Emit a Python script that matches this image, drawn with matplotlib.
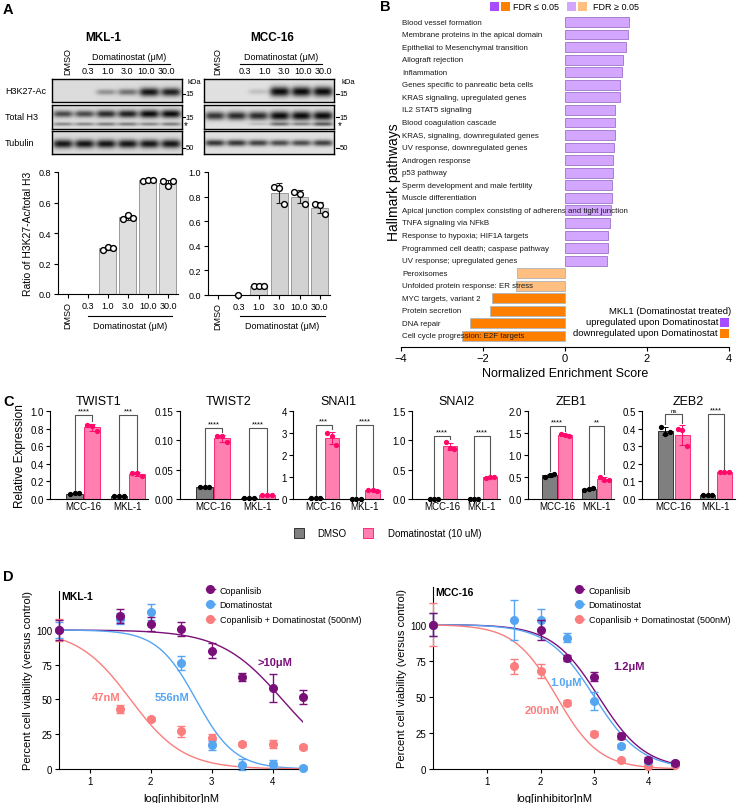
import numpy as np
import matplotlib
matplotlib.use('Agg')
import matplotlib.pyplot as plt
from matplotlib.patches import Rectangle
from matplotlib.lines import Line2D

plt.rcParams['font.family'] = ['Liberation Sans', 'DejaVu Sans']
plt.rcParams['axes.linewidth'] = 0.8

W, H = 738, 804

# ---------------- panel A data ----------------
conc_labels = ['DMSO', '0.3', '1.0', '3.0', '10.0', '30.0']
# band intensities per lane (0..1)
mkl_h3k27 = [0.0, 0.0, 0.35, 0.5, 0.95, 0.9]
mkl_h3_up = [0.7, 0.7, 0.85, 0.9, 1.0, 1.0]
mkl_h3_low = [0.4, 0.4, 0.45, 0.45, 0.4, 0.45]
mkl_tub = [0.95, 0.95, 0.95, 0.95, 0.95, 0.95]
mcc_h3k27 = [0.0, 0.0, 0.15, 1.0, 1.0, 1.0]
mcc_h3_up = [0.8, 0.85, 0.85, 1.0, 1.0, 1.0]
mcc_h3_low = [0.0, 0.0, 0.15, 0.5, 0.4, 0.6]
mcc_tub = [0.8, 0.8, 0.75, 0.7, 0.7, 0.75]
# quantification (ratio H3K27-Ac / total H3), replicates
mkl_ratio = [[], [], [0.29, 0.31, 0.30], [0.49, 0.52, 0.50], [0.74, 0.75, 0.75], [0.74, 0.71, 0.74]]
mcc_ratio = [[], [0.0], [0.07, 0.07, 0.075], [0.88, 0.87, 0.74], [0.84, 0.82, 0.74], [0.74, 0.73, 0.66]]

# ---------------- panel B data ----------------
pathways = ['Blood vessel formation', 'Membrane proteins in the apical domain',
            'Epithelial to Mesenchymal transition', 'Allograft rejection', 'Inflammation',
            'Genes specific to panreatic beta cells', 'KRAS signaling, upregulated genes',
            'IL2 STAT5 signaling', 'Blood coagulation cascade', 'KRAS, signaling, downregulated genes',
            'UV response, downregulated genes', 'Androgen response', 'p53 pathway',
            'Sperm development and male fertility', 'Muscle differentiation',
            'Apical junction complex consisting of adherens and tight junction',
            'TNFA signaling via NFkB', 'Response to hypoxia; HIF1A targets',
            'Programmed cell death; caspase pathway', 'UV response; upregulated genes',
            'Peroxisomes', 'Unfolded protein response: ER stress', 'MYC targets, variant 2',
            'Protein secretion', 'DNA repair', 'Cell cycle progression: E2F targets']
nes = [1.55, 1.53, 1.48, 1.42, 1.40, 1.35, 1.33, 1.22, 1.22, 1.21, 1.20, 1.17, 1.16,
       1.15, 1.15, 1.12, 1.10, 1.04, 1.04, 1.02, -1.18, -1.20, -1.77, -1.82, -2.31, -2.52]
fdr_sig = [False] * 22 + [True, True, True, True]

# ---------------- panel C data ----------------
genes = ['TWIST1', 'TWIST2', 'SNAI1', 'SNAI2', 'ZEB1', 'ZEB2']
cell_lines = ['MCC-16', 'MKL-1']
# replicates: MCC DMSO, MCC Dom, MKL DMSO, MKL Dom
twist1 = [[0.055, 0.065, 0.065], [0.84, 0.83, 0.77], [0.03, 0.03, 0.035], [0.30, 0.29, 0.26]]
twist2 = [[0.020, 0.020, 0.020], [0.107, 0.107, 0.097], [0.002, 0.002, 0.002], [0.006, 0.006, 0.006]]
snai1 = [[0.05, 0.05, 0.05], [2.98, 2.88, 2.45], [0.0, 0.0, 0.0], [0.42, 0.40, 0.38]]
snai2 = [[0.0, 0.0, 0.0], [0.97, 0.87, 0.86], [0.0, 0.0, 0.0], [0.35, 0.37, 0.38]]
zeb1 = [[0.50, 0.55, 0.56], [1.48, 1.45, 1.43], [0.20, 0.23, 0.24], [0.50, 0.44, 0.43]]
zeb2 = [[0.41, 0.37, 0.38], [0.40, 0.39, 0.30], [0.02, 0.025, 0.022], [0.153, 0.153, 0.153]]
c_ymax = [1.0, 0.15, 4, 1.5, 2.0, 0.5]
c_ticks = [[0, 0.2, 0.4, 0.6, 0.8, 1.0], [0, 0.05, 0.10, 0.15], [0, 1, 2, 3, 4],
           [0, 0.5, 1.0, 1.5], [0, 0.5, 1.0, 1.5, 2.0], [0, 0.1, 0.2, 0.3, 0.4, 0.5]]
c_fmt = ['%.1f', '%.2f', '%d', '%.1f', '%.1f', '%.1f']
sig_labels = [['****', '***'], ['****', '****'], ['***', '****'], ['****', '****'], ['****', '**'], ['ns', '****']]
bracket_y = [[0.955, 0.955], [0.121, 0.121], [3.36, 3.36], [1.07, 1.07], [1.66, 1.66], [0.483, 0.483]]

# ---------------- panel D data ----------------
log_dose_mkl = [0.5, 1.5, 2, 2.5, 3, 3.5, 4, 4.5]
mkl_cop = [100, 110, 104, 101, 85, 66, 58, 52]
mkl_cop_err = [7, 5, 5, 5, 5.5, 3, 10, 5]
mkl_dom = [100, 108, 113, 76, 17, 3, 3.5, 1]
mkl_dom_err = [6, 4, 6, 5, 3, 4, 3, 1]
mkl_combo = [100, 43, 36, 27, 22, 18, 18, 16]
mkl_combo_err = [8, 3, 1.5, 4, 3, 1.5, 3, 1.5]
log_dose_mcc = [0, 1.5, 2, 2.5, 3, 3.5, 4, 4.5]
mcc_cop = [100, np.nan, 96, 77, 64, 23, 6.5, 4]
mcc_cop_err = [8, 0, 7, 2, 3, 2, 1.5, 1.5]
mcc_dom = [100, 103, 103, 91, 47, 16, 5.5, 4]
mcc_dom_err = [8, 14, 8, 3, 6, 1.5, 1, 1]
mcc_combo = [100, 71, 68, 46, 24.5, 6, 2, 3]
mcc_combo_err = [15, 5, 5, 1.5, 1.5, 1, 1, 1]
# fitted curves: log IC50 and hill slope (cop, dom, combo)
mkl_logic50 = [4.16, 2.745, 1.672]
mkl_hill = [0.86, 1.36, 1.0]
mcc_logic50 = [3.08, 3.0, 2.3]
mcc_hill = [1.0, 1.0, 1.1]
mkl_ic_text = ['>10μM', '556nM', '47nM']
mkl_ic_pos = [(4.04, 77), (2.35, 52), (1.27, 52)]
mcc_ic_text = ['1.2μM', '1.0μM', '200nM']
mcc_ic_pos = [(3.65, 71), (2.48, 60), (2.02, 41)]
drug_names = ['Copanlisib', 'Domatinostat', 'Copanlisib + Domatinostat (500nM)']
drug_colors = ['#7a0f7a', '#55a5f2', '#fb7d7d']


def box(l, t, w, h):
    return [l / W, 1 - (t + h) / H, w / W, h / H]


fig = plt.figure(figsize=(W / 100, H / 100), dpi=100)


# ================= panel A: blots =================
def draw_blot(l, t, w, h, bands, bg):
    ax = fig.add_axes(box(l, t, w, h))
    nx, ny = 260, 60
    xs = np.linspace(0, 6, nx)
    ys = np.linspace(0, 1, ny)
    X, Y = np.meshgrid(xs, ys)
    v = np.zeros_like(X)
    for yc, inten, sy in bands:
        for i, a in enumerate(inten):
            if a <= 0:
                continue
            prof_x = np.exp(-((X - (i + 0.5)) / 0.46) ** 4)
            s = sy * (0.55 + 0.6 * a)
            prof_y = np.exp(-((Y - yc) / s) ** 2)
            v += a * prof_x * prof_y
    v = np.clip(v, 0, 1)
    img = bg - (bg - 0.04) * v
    ax.imshow(img, cmap='gray', vmin=0, vmax=1, aspect='auto', extent=(0, 6, 1, 0),
              interpolation='bilinear')
    ax.set_xticks([])
    ax.set_yticks([])
    for s in ax.spines.values():
        s.set_linewidth(1.0)
    return ax


draw_blot(52, 80, 130, 23, [(0.57, mkl_h3k27, 0.17)], 0.86)
draw_blot(52, 106, 130, 24, [(0.37, mkl_h3_up, 0.15), (0.80, mkl_h3_low, 0.09)], 0.86)
draw_blot(52, 132, 130, 23, [(0.56, mkl_tub, 0.17)], 0.86)
draw_blot(204, 80, 130, 23, [(0.55, mcc_h3k27, 0.19)], 0.88)
draw_blot(204, 106, 130, 24, [(0.45, mcc_h3_up, 0.17), (0.80, mcc_h3_low, 0.09)], 0.88)
draw_blot(204, 132, 130, 23, [(0.52, mcc_tub, 0.14)], 0.88)


# ================= panel A: quantification =================
def ratio_bars(l, t, w, h, reps, ymax, yticks, color):
    ax = fig.add_axes(box(l, t, w, h))
    xpos = np.arange(len(conc_labels))
    for i, r in enumerate(reps):
        if len(r) == 0:
            continue
        m = np.mean(r)
        ax.bar(xpos[i], m, width=0.85, color=color, edgecolor='#9a9a9a', linewidth=0.7, zorder=1)
        if len(r) > 1:
            sd = np.std(r, ddof=1)
            ax.errorbar(xpos[i], m, yerr=sd, color='#222222', capsize=2.5, elinewidth=0.8,
                        capthick=0.8, zorder=2)
        offs = [-0.25, 0, 0.25][:len(r)] if len(r) > 1 else [0]
        ax.plot(xpos[i] + np.array(offs), r, 'o', mfc='white', mec='black', ms=4.2, mew=1.0,
                zorder=3, clip_on=False)
    ax.set_xlim(-0.5, 5.5)
    ax.set_ylim(0, ymax)
    ax.set_yticks(yticks)
    ax.set_yticklabels(['%.1f' % v for v in yticks])
    ax.set_xticks(xpos)
    ax.set_xticklabels(conc_labels)
    ax.get_xticklabels()[0].set_rotation(90)
    ax.get_xticklabels()[0].set_va('top')
    ax.tick_params(labelsize=6.5, length=3, width=0.8, pad=2)
    ax.spines['top'].set_visible(False)
    ax.spines['right'].set_visible(False)
    return ax


axr1 = ratio_bars(58, 173, 120, 122, mkl_ratio, 0.8, [0, 0.2, 0.4, 0.6, 0.8], '#dedede')
axr1.set_ylabel('Ratio of H3K27-Ac/total H3', fontsize=7.5, labelpad=4)
ratio_bars(208, 173, 122, 123, mcc_ratio, 1.0, [0, 0.2, 0.4, 0.6, 0.8, 1.0], '#d2d2d2')

# ================= panel B =================
axb = fig.add_axes(box(401, 16, 328, 332))
ypos = np.arange(len(pathways))
bcolors = []
ecolors = []
for v, s in zip(nes, fdr_sig):
    if v > 0:
        bcolors.append('#a64dff' if s else '#d3a6ff')
        ecolors.append('#8a50c0' if s else '#a77fcf')
    else:
        bcolors.append('#ff8000' if s else '#ffbf80')
        ecolors.append('#b8b8b8')
axb.barh(ypos, nes, height=0.78, color=bcolors, edgecolor=ecolors, linewidth=0.7)
for i, p in enumerate(pathways):
    axb.text(-3.97, i, p, fontsize=5.7, va='center', ha='left', color='#1a1a1a')
axb.set_xlim(-4, 4)
axb.set_ylim(len(pathways) - 0.12, -0.56)
axb.set_xticks([-4, -2, 0, 2, 4])
axb.set_yticks([])
for s in ['top', 'right', 'left']:
    axb.spines[s].set_visible(False)
axb.tick_params(axis='x', labelsize=8, length=3, width=0.8, pad=1)
axb.set_xlabel('Normalized Enrichment Score', fontsize=9, labelpad=3)
axb.set_ylabel('Hallmark pathways', fontsize=10, labelpad=0)

# ================= panel C =================
c_lefts = [50, 180, 293, 412, 528, 642]
c_widths = [98, 98, 90, 88, 86, 93]
c_data = [twist1, twist2, snai1, snai2, zeb1, zeb2]
c_axes = []
for k, g in enumerate(genes):
    ax = fig.add_axes(box(c_lefts[k], 412, c_widths[k], 88))
    c_axes.append(ax)
    ymax = c_ymax[k]
    tops = []
    for j, reps in enumerate(c_data[k]):
        grp = j // 2
        dom = j % 2
        x = grp + (0.2 if dom else -0.2)
        m = np.mean(reps)
        sd = np.std(reps, ddof=1)
        fc = '#ff80b0' if dom else '#7f7f7f'
        ec = '#ff2a7a' if dom else '#333333'
        pc = '#ff0a6a' if dom else '#000000'
        ax.bar(x, m, width=0.36, color=fc, edgecolor=ec, linewidth=0.7, zorder=1)
        ax.errorbar(x, m, yerr=sd, color=pc, capsize=2, elinewidth=0.7, capthick=0.7, zorder=2)
        ax.plot(x + np.array([-0.11, 0, 0.11]), reps, 'o', color=pc, ms=2.8, zorder=3, clip_on=False)
        tops.append(max(max(reps), m + sd))
    for grp in range(2):
        yb = bracket_y[k][grp]
        x0 = grp - 0.2
        x1 = grp + 0.2
        gap = ymax * 0.03
        ax.plot([x0, x0, x1, x1], [tops[2 * grp] + gap, yb, yb, tops[2 * grp + 1] + gap],
                color='#555555', lw=0.8, zorder=0, clip_on=False)
        ax.text(grp, yb + ymax * 0.01, sig_labels[k][grp], ha='center', va='bottom',
                fontsize=4.5 if sig_labels[k][grp] == 'ns' else 5.5)
    ax.set_xlim(-0.75, 1.45)
    ax.set_ylim(0, ymax)
    ax.set_yticks(c_ticks[k])
    ax.set_yticklabels([c_fmt[k] % v for v in c_ticks[k]])
    ax.set_xticks([0, 1])
    ax.set_xticklabels(cell_lines)
    ax.tick_params(labelsize=7, length=3, width=0.8, pad=1.5)
    ax.tick_params(axis='x', length=0)
    ax.spines['top'].set_visible(False)
    ax.spines['right'].set_visible(False)
    ax.set_title(g, fontsize=9, pad=5)
c_axes[0].set_ylabel('Relative Expression', fontsize=8.5, labelpad=3)


# ================= panel D =================
def hill(x, c, h):
    return 100.0 / (1 + 10 ** ((x - c) * h))


def dose_plot(l, t, w, h, x0, ymax, xd, ys, errs, logic50, hills, ic_text, ic_pos, title, leg_x):
    ax = fig.add_axes(box(l, t, w, h))
    xx = np.linspace(x0, 4.5, 200)
    for i in range(3):
        ax.plot(xx, hill(xx, logic50[i], hills[i]), color=drug_colors[i], lw=1.0, zorder=1)
    for i in [2, 1, 0]:
        ax.errorbar(xd, ys[i], yerr=errs[i], fmt='o', color=drug_colors[i], ms=5.5,
                    capsize=3, elinewidth=1.0, capthick=1.0, zorder=3 + (2 - i), clip_on=False)
    for i in range(3):
        ax.text(ic_pos[i][0], ic_pos[i][1], ic_text[i], color=drug_colors[i], fontsize=8,
                fontweight='bold', ha='center', va='center')
    ax.set_xlim(x0, 4.5)
    ax.set_ylim(0, ymax)
    ax.set_xticks([1, 2, 3, 4])
    ax.set_yticks([0, 25, 50, 75, 100])
    ax.tick_params(labelsize=7, length=3, width=0.8, pad=2)
    ax.spines['top'].set_visible(False)
    ax.spines['right'].set_visible(False)
    ax.set_xlabel('log[inhibitor]nM', fontsize=8, labelpad=5)
    ax.set_ylabel('Percent cell viability (versus control)', fontsize=8, labelpad=2)
    ax.text(0.01, 1.0, title, transform=ax.transAxes, fontsize=7.5, fontweight='bold',
            ha='left', va='top')
    handles = [Line2D([], [], color=c, marker='o', ms=5.5, lw=1.0) for c in drug_colors]
    ax.legend(handles, drug_names, loc='upper left', bbox_to_anchor=(leg_x, 1 - 582 / H),
              bbox_transform=fig.transFigure, frameon=False, fontsize=6.5, handlelength=1.1,
              handletextpad=0.45, labelspacing=0.65, borderpad=0)
    return ax


dose_plot(59, 592, 244, 178, 0.5, 128, log_dose_mkl,
          [mkl_cop, mkl_dom, mkl_combo], [mkl_cop_err, mkl_dom_err, mkl_combo_err],
          mkl_logic50, mkl_hill, mkl_ic_text, mkl_ic_pos, 'MKL-1', 201 / W)
dose_plot(433, 588, 242, 182, 0.0, 126, log_dose_mcc,
          [mcc_cop, mcc_dom, mcc_combo], [mcc_cop_err, mcc_dom_err, mcc_combo_err],
          mcc_logic50, mcc_hill, mcc_ic_text, mcc_ic_pos, 'MCC-16', 570 / W)

# ================= overlay: labels, annotations =================
ov = fig.add_axes([0, 0, 1, 1])
ov.set_xlim(0, W)
ov.set_ylim(H, 0)
ov.axis('off')
ov.patch.set_alpha(0)

for lbl, x, y in [('A', 3, 10), ('B', 380, 7), ('C', 3, 402), ('D', 3, 577)]:
    ov.text(x, y, lbl, fontsize=10.5, fontweight='bold', ha='left', va='center')

# blot headers
for title, tx, dx, lane0, line0, line1, kx in [('MKL-1', 103, 68, 88, 88, 170, 188),
                                                ('MCC-16', 272, 218, 245, 240, 322, 342)]:
    ov.text(tx, 38, title, fontsize=8.5, fontweight='bold', ha='center', va='center')
    ov.text(dx, 62, 'DMSO', fontsize=6.5, rotation=90, ha='center', va='center')
    ov.text((line0 + line1) / 2, 58, 'Domatinostat (μM)', fontsize=6.5, ha='center', va='center')
    ov.plot([line0, line1], [65, 65], color='black', lw=0.8)
    step = (line1 - line0 - 4) / 4
    for j, c in enumerate(conc_labels[1:]):
        ov.text(lane0 + j * step, 72, c, fontsize=6.5, ha='center', va='center')
    ov.text(kx, 82, 'kDa', fontsize=5.5, ha='left', va='center')
    bx = kx - 6
    for yy, s in [(95, '15'), (118, '15'), (149, '50')]:
        ov.plot([bx, bx + 3], [yy, yy], color='black', lw=0.8)
        ov.text(bx + 3.5, yy, s, fontsize=5.5, ha='left', va='center')
    ov.text(bx + 2, 126, '*', fontsize=7, ha='left', va='center')

for lbl, y in [('H3K27-Ac', 91), ('Total H3', 117), ('Tubulin', 144)]:
    ov.text(5, y, lbl, fontsize=6.5, ha='left', va='center')

# quantification x-axis group labels
for l0, l1 in [(88, 172), (240, 325)]:
    ov.plot([l0, l1], [317, 317], color='black', lw=0.8)
    ov.text((l0 + l1) / 2, 327, 'Domatinostat (μM)', fontsize=6.5, ha='center', va='center')

# panel B FDR legend
for x, c in [(490, '#a64dff'), (501, '#ff8000'), (567, '#d3a6ff'), (578, '#ffbf80')]:
    ov.add_patch(Rectangle((x, 3), 9, 9, facecolor=c, edgecolor='none'))
ov.text(513, 8, 'FDR ≤ 0.05', fontsize=6.5, ha='left', va='center')
ov.text(593, 8, 'FDR ≥ 0.05', fontsize=6.5, ha='left', va='center')

ov.text(731, 312, 'MKL1 (Domatinostat treated)', fontsize=6.8, ha='right', va='center')
ov.text(718, 323, 'upregulated upon Domatinostat', fontsize=6.8, ha='right', va='center')
ov.text(718, 334, 'downregulated upon Domatinostat', fontsize=6.8, ha='right', va='center')
ov.add_patch(Rectangle((720, 319), 9, 9, facecolor='#a64dff', edgecolor='none'))
ov.add_patch(Rectangle((720, 330), 9, 9, facecolor='#ff8000', edgecolor='none'))

# panel C legend
ov.add_patch(Rectangle((294, 529), 10, 10, facecolor='#7f7f7f', edgecolor='#333333', lw=0.7))
ov.text(317, 534, 'DMSO', fontsize=7, ha='left', va='center')
ov.add_patch(Rectangle((363, 529), 10, 10, facecolor='#ff80b0', edgecolor='#ff2a7a', lw=0.7))
ov.text(388, 534, 'Domatinostat (10 uM)', fontsize=7, ha='left', va='center')

fig.savefig('out.png', dpi=100)
